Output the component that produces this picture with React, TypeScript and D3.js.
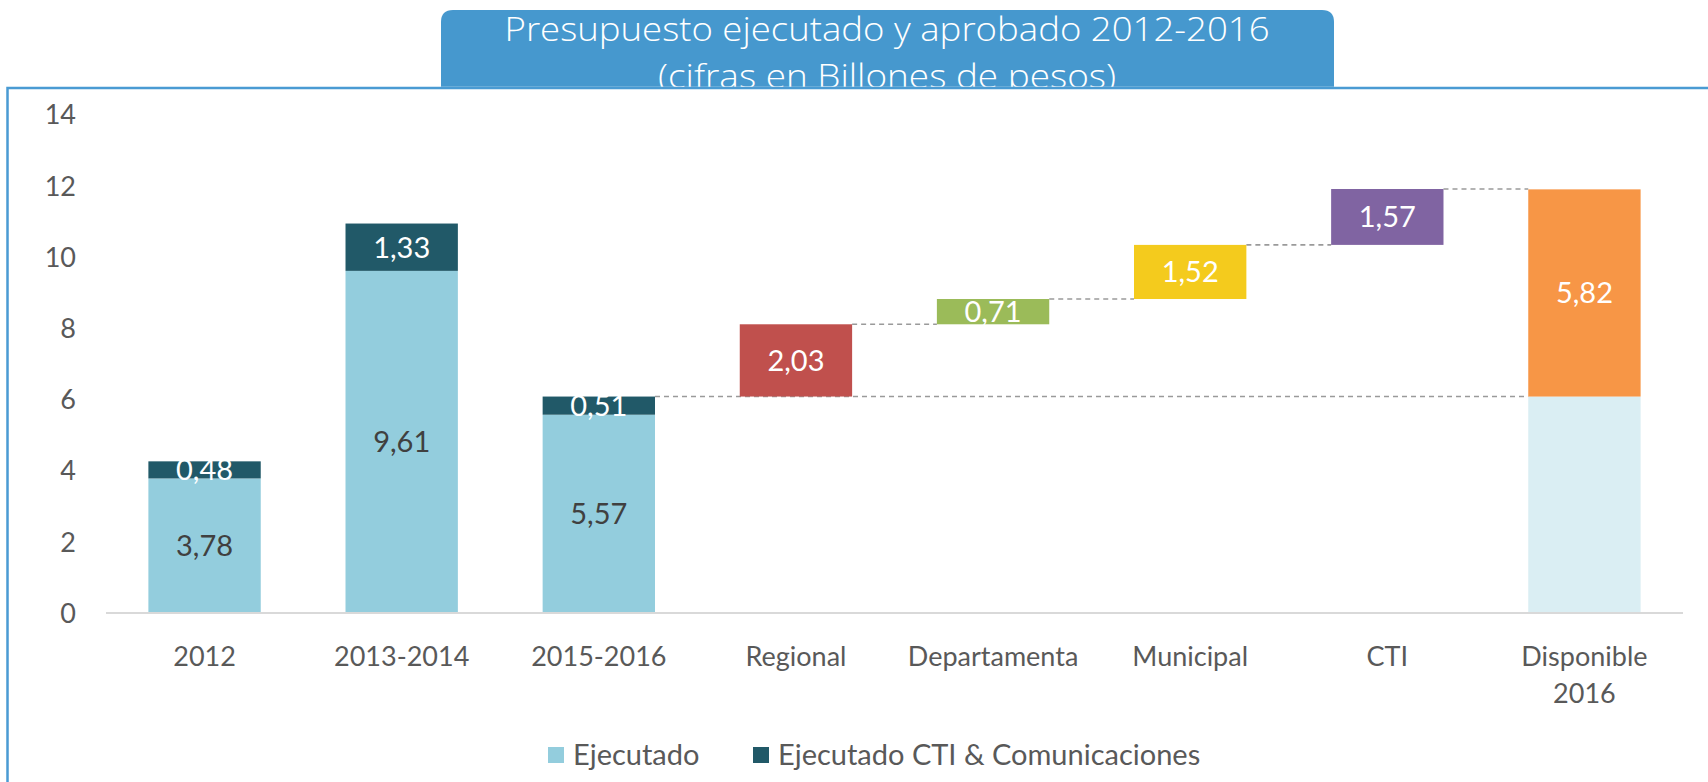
import * as d3 from "d3";
import { useEffect, useRef } from "react";

const categories = [
  "2012",
  "2013-2014",
  "2015-2016",
  "Regional",
  "Departamenta",
  "Municipal",
  "CTI",
  "Disponible 2016",
];

// executed budget per period
const ejecutado = [3.78, 9.61, 5.57];
const ejecutadoCti = [0.48, 1.33, 0.51];

// waterfall steps after 2015-2016
const steps = [
  { name: "Regional", value: 2.03, color: "#C0504D" },
  { name: "Departamenta", value: 0.71, color: "#9BBB59" },
  { name: "Municipal", value: 1.52, color: "#F4CB1D" },
  { name: "CTI", value: 1.57, color: "#8064A2" },
];
const disponible = 5.82;

const yTicks = [0, 2, 4, 6, 8, 10, 12, 14];

const fmt = (v: number) => v.toFixed(2).replace(".", ",");

export default function App() {
  const ref = useRef<SVGSVGElement | null>(null);

  useEffect(() => {
    const el = ref.current;
    if (!el) return;
    const svg = d3.select(el);
    svg.selectAll("*").remove();

    const W = 1708;
    const H = 782;
    const font = "Lato, 'Open Sans', sans-serif";
    const textColor = "#595959";

    const x = d3.scaleBand().domain(categories).range([106, 1683]).paddingInner(0.43).paddingOuter(0.215);
    const y = d3.scaleLinear().domain([0, 14]).range([613, 114.6]);

    // outer frame
    svg.append("rect").attr("x", 0).attr("y", 0).attr("width", W).attr("height", H).attr("fill", "#fff");
    svg
      .append("path")
      .attr("d", `M7.5,${H} L7.5,88 L${W},88`)
      .attr("fill", "none")
      .attr("stroke", "#4A9BD3")
      .attr("stroke-width", 2.5);

    // title banner
    const bx0 = 441;
    const bx1 = 1334;
    const r = 12;
    svg
      .append("path")
      .attr(
        "d",
        `M${bx0},88 L${bx0},${10 + r} Q${bx0},10 ${bx0 + r},10 L${bx1 - r},10 Q${bx1},10 ${bx1},${10 + r} L${bx1},88 Z`,
      )
      .attr("fill", "#4698CE");
    const titleAttrs = (t: d3.Selection<SVGTextElement, unknown, null, undefined>) =>
      t
        .attr("text-anchor", "middle")
        .attr("fill", "#fff")
        .attr("font-family", "'Open Sans', Lato, sans-serif")
        .attr("font-weight", 300)
        .attr("font-size", 33)
        .attr("lengthAdjust", "spacingAndGlyphs");
    svg
      .append("text")
      .call(titleAttrs)
      .attr("x", 887)
      .attr("y", 41)
      .attr("textLength", 765)
      .text("Presupuesto ejecutado y aprobado 2012-2016");
    svg
      .append("text")
      .call(titleAttrs)
      .attr("x", 887)
      .attr("y", 87.5)
      .attr("textLength", 458)
      .text("(cifras en Billones de pesos)");
    // frame line redrawn over banner bottom, clipping the second title line
    svg
      .append("rect")
      .attr("x", bx0)
      .attr("y", 86.75)
      .attr("width", bx1 - bx0)
      .attr("height", 20)
      .attr("fill", "#fff");
    svg
      .append("line")
      .attr("x1", bx0)
      .attr("x2", bx1)
      .attr("y1", 88)
      .attr("y2", 88)
      .attr("stroke", "#4A9BD3")
      .attr("stroke-width", 2.5);

    const g = svg.append("g");

    // y axis labels
    g.append("g")
      .selectAll("text")
      .data(yTicks)
      .join("text")
      .attr("x", 76)
      .attr("y", (d) => y(d))
      .attr("dy", "0.36em")
      .attr("text-anchor", "end")
      .attr("fill", textColor)
      .attr("font-family", font)
      .attr("font-size", 27)
      .text((d) => d);

    const bw = x.bandwidth();

    // dashed connectors
    const dash = g.append("g").attr("stroke", "#9A9A9A").attr("stroke-width", 1.6).attr("stroke-dasharray", "5,4");
    const base = ejecutado[2] + ejecutadoCti[2];
    dash
      .append("line")
      .attr("x1", x("2015-2016")! + bw)
      .attr("x2", x("Disponible 2016")!)
      .attr("y1", y(base))
      .attr("y2", y(base));
    let level = base;
    steps.forEach((s, i) => {
      level += s.value;
      const nextName = i < steps.length - 1 ? steps[i + 1].name : "Disponible 2016";
      dash
        .append("line")
        .attr("x1", x(s.name)! + bw)
        .attr("x2", x(nextName)!)
        .attr("y1", y(level))
        .attr("y2", y(level));
    });

    // stacked executed bars
    const labels: { x: number; y: number; text: string; color: string }[] = [];
    ejecutado.forEach((v, i) => {
      const c = categories[i];
      const top = v + ejecutadoCti[i];
      g.append("rect").attr("x", x(c)!).attr("width", bw).attr("y", y(v)).attr("height", y(0) - y(v)).attr("fill", "#93CDDD");
      g.append("rect")
        .attr("x", x(c)!)
        .attr("width", bw)
        .attr("y", y(top))
        .attr("height", y(v) - y(top))
        .attr("fill", "#215968");
      labels.push({ x: x(c)! + bw / 2, y: y(v / 2), text: fmt(v), color: "#404040" });
      labels.push({ x: x(c)! + bw / 2, y: y((v + top) / 2), text: fmt(ejecutadoCti[i]), color: "#fff" });
    });

    // waterfall steps
    let start = base;
    steps.forEach((s) => {
      const end = start + s.value;
      g.append("rect")
        .attr("x", x(s.name)!)
        .attr("width", bw)
        .attr("y", y(end))
        .attr("height", y(start) - y(end))
        .attr("fill", s.color);
      labels.push({ x: x(s.name)! + bw / 2, y: y((start + end) / 2), text: fmt(s.value), color: "#fff" });
      start = end;
    });

    // available 2016
    const dx = x("Disponible 2016")!;
    g.append("rect").attr("x", dx).attr("width", bw).attr("y", y(base)).attr("height", y(0) - y(base)).attr("fill", "#DAEEF3");
    g.append("rect")
      .attr("x", dx)
      .attr("width", bw)
      .attr("y", y(base + disponible))
      .attr("height", y(base) - y(base + disponible))
      .attr("fill", "#F79646");
    labels.push({ x: dx + bw / 2, y: y(base + disponible / 2), text: fmt(disponible), color: "#fff" });

    // baseline
    g.append("line")
      .attr("x1", 106)
      .attr("x2", 1683)
      .attr("y1", y(0))
      .attr("y2", y(0))
      .attr("stroke", "#D9D9D9")
      .attr("stroke-width", 2);

    g.append("g")
      .selectAll("text")
      .data(labels)
      .join("text")
      .attr("x", (d) => d.x)
      .attr("y", (d) => d.y)
      .attr("dy", "0.36em")
      .attr("text-anchor", "middle")
      .attr("fill", (d) => d.color)
      .attr("font-family", font)
      .attr("font-size", 29)
      .text((d) => d.text);

    // category labels
    const xl = g
      .append("g")
      .selectAll("text")
      .data(categories)
      .join("text")
      .attr("text-anchor", "middle")
      .attr("fill", textColor)
      .attr("font-family", font)
      .attr("font-size", 27);
    xl.each(function (d) {
      const words = d === "Disponible 2016" ? ["Disponible", "2016"] : [d];
      const t = d3.select(this);
      words.forEach((w, k) => {
        t.append("tspan")
          .attr("x", x(d)! + bw / 2)
          .attr("y", 656 + k * 37)
          .attr("dy", "0.36em")
          .text(w);
      });
    });

    // legend
    const legend = [
      { label: "Ejecutado", color: "#93CDDD", x: 548 },
      { label: "Ejecutado CTI & Comunicaciones", color: "#215968", x: 753 },
    ];
    legend.forEach((l) => {
      g.append("rect").attr("x", l.x).attr("y", 747).attr("width", 16).attr("height", 16).attr("fill", l.color);
      g.append("text")
        .attr("x", l.x + 25)
        .attr("y", 755)
        .attr("dy", "0.36em")
        .attr("fill", textColor)
        .attr("font-family", font)
        .attr("font-size", 29)
        .text(l.label);
    });
  }, []);

  return (
    <svg
      ref={ref}
      width={1708}
      height={782}
      style={{ position: "absolute", left: 0, top: 0, display: "block" }}
    />
  );
}
